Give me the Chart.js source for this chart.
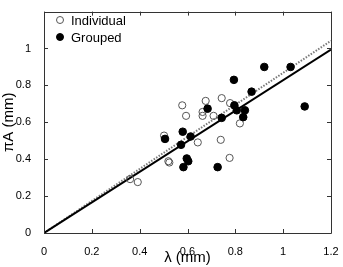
<!DOCTYPE html>
<html>
<head>
<meta charset="utf-8">
<script src="https://cdn.jsdelivr.net/npm/chart.js@4.4.1/dist/chart.umd.min.js"></script>
<style>
html,body{margin:0;padding:0;background:#fff;}
#wrap{width:343px;height:267px;position:relative;}
</style>
</head>
<body>
<div id="wrap"><canvas id="c" width="343" height="267"></canvas></div>
<script>
// Data
const individualX = [0.578,0.676,0.743,0.778,0.594,0.663,0.663,0.709,0.819,0.643,0.739,0.776,0.502,0.520,0.524,0.360,0.392];
const individualY = [0.692,0.716,0.731,0.704,0.635,0.656,0.635,0.635,0.594,0.491,0.505,0.407,0.528,0.389,0.382,0.292,0.276];
const groupedX = [0.921,1.031,0.794,0.868,1.090,0.796,0.806,0.840,0.833,0.684,0.743,0.580,0.613,0.573,0.597,0.603,0.583,0.726,0.506];
const groupedY = [0.900,0.900,0.830,0.766,0.686,0.692,0.665,0.665,0.628,0.674,0.624,0.549,0.523,0.478,0.404,0.389,0.357,0.357,0.510];
const fitX = [0, 1.2];
const groupedFitY = [0, 0.994];
const individualFitY = [0, 1.042];
const xTicks = [0, 0.2, 0.4, 0.6, 0.8, 1, 1.2];
const yTicks = [0, 0.2, 0.4, 0.6, 0.8, 1];

const pts = (xs, ys) => xs.map((x, i) => ({x: x, y: ys[i]}));

const framePlugin = {
  id: 'frame',
  afterDatasetsDraw(chart) {
    const {ctx, chartArea: a, scales} = chart;
    ctx.save();
    ctx.strokeStyle = '#333';
    ctx.lineWidth = 1;
    ctx.beginPath();
    ctx.rect(Math.round(a.left) + 0.5, Math.round(a.top) + 0.5, Math.round(a.right - a.left), Math.round(a.bottom - a.top));
    ctx.stroke();
    const L = 4;
    ctx.beginPath();
    xTicks.forEach(v => {
      const px = Math.round(scales.x.getPixelForValue(v)) + 0.5;
      ctx.moveTo(px, a.bottom); ctx.lineTo(px, a.bottom - L);
      ctx.moveTo(px, a.top); ctx.lineTo(px, a.top + L);
    });
    yTicks.forEach(v => {
      const py = Math.round(scales.y.getPixelForValue(v)) + 0.5;
      ctx.moveTo(a.left, py); ctx.lineTo(a.left + L, py);
      ctx.moveTo(a.right, py); ctx.lineTo(a.right - L, py);
    });
    ctx.stroke();
    // legend box
    const lg = chart.legend;
    if (lg && lg.options.display) {
      ctx.fillStyle = '#fff';
      ctx.strokeStyle = '#444';
      ctx.beginPath();
      ctx.rect(47.5, 10.5, 83, 37);
      ctx.fill();
      ctx.stroke();
    }
    ctx.restore();
  }
};

new Chart(document.getElementById('c'), {
  data: {
    datasets: [
      {
        type: 'line', label: 'fitIndividual', data: pts(fitX, individualFitY),
        borderColor: '#7a7a7a', borderWidth: 2, borderDash: [1.5, 1.5], pointRadius: 0, order: 3
      },
      {
        type: 'line', label: 'fitGrouped', data: pts(fitX, groupedFitY),
        borderColor: '#000', borderWidth: 2, pointRadius: 0, order: 2
      },
      {
        type: 'scatter', label: 'Individual', data: pts(individualX, individualY),
        pointStyle: 'circle', pointRadius: 3.6, pointBorderWidth: 1,
        borderColor: '#555', backgroundColor: 'rgba(255,255,255,0)', order: 1
      },
      {
        type: 'scatter', label: 'Grouped', data: pts(groupedX, groupedY),
        pointStyle: 'circle', pointRadius: 3.8, pointBorderWidth: 1,
        borderColor: '#000', backgroundColor: '#000', order: 0
      }
    ]
  },
  options: {
    responsive: false,
    animation: false,
    layout: {padding: {left: 0, top: 9, right: 12, bottom: 0}},
    plugins: {
      legend: {display: false},
      tooltip: {enabled: false}
    },
    scales: {
      x: {
        type: 'linear', min: 0, max: 1.2,
        afterBuildTicks: s => { s.ticks = xTicks.map(v => ({value: v})); },
        afterFit: s => { s.height = 34; },
        grid: {display: false}, border: {display: false},
        ticks: {padding: 4, color: '#000', font: {family: 'Liberation Sans', size: 11}, maxRotation: 0,
          callback: v => String(v)},
        title: {display: true, text: 'λ (mm)', color: '#000', font: {family: 'Liberation Sans', size: 15}, padding: {top: 0, bottom: 0}}
      },
      y: {
        type: 'linear', min: 0, max: 1.2,
        afterBuildTicks: s => { s.ticks = yTicks.map(v => ({value: v})); },
        afterFit: s => { s.width = 44; },
        grid: {display: false}, border: {display: false},
        ticks: {padding: 5, color: '#000', font: {family: 'Liberation Sans', size: 11},
          callback: v => String(v)},
        title: {display: true, text: 'πA (mm)', color: '#000', font: {family: 'Liberation Sans', size: 15}, padding: {top: 0, bottom: 0}}
      }
    }
  },
  plugins: [framePlugin, {
    id: 'legendText',
    afterDraw(chart) {
      const ctx = chart.ctx;
      ctx.save();
      ctx.font = '13px "Liberation Sans"';
      ctx.textBaseline = 'middle';
      ctx.fillStyle = '#000';
      const items = chart.data.datasets.filter(d => d.type === 'scatter');
      items.forEach((d, i) => {
        const y = 20 + i * 17;
        ctx.beginPath();
        ctx.arc(60, y, 3.5, 0, Math.PI * 2);
        ctx.lineWidth = 1;
        ctx.strokeStyle = d.borderColor;
        if (d.backgroundColor === '#000') { ctx.fillStyle = '#000'; ctx.fill(); }
        ctx.stroke();
        ctx.fillStyle = '#000';
        ctx.fillText(d.label, 71, y + 1);
      });
      ctx.restore();
    },
    beforeDraw() {}
  }]
});
</script>
</body>
</html>
